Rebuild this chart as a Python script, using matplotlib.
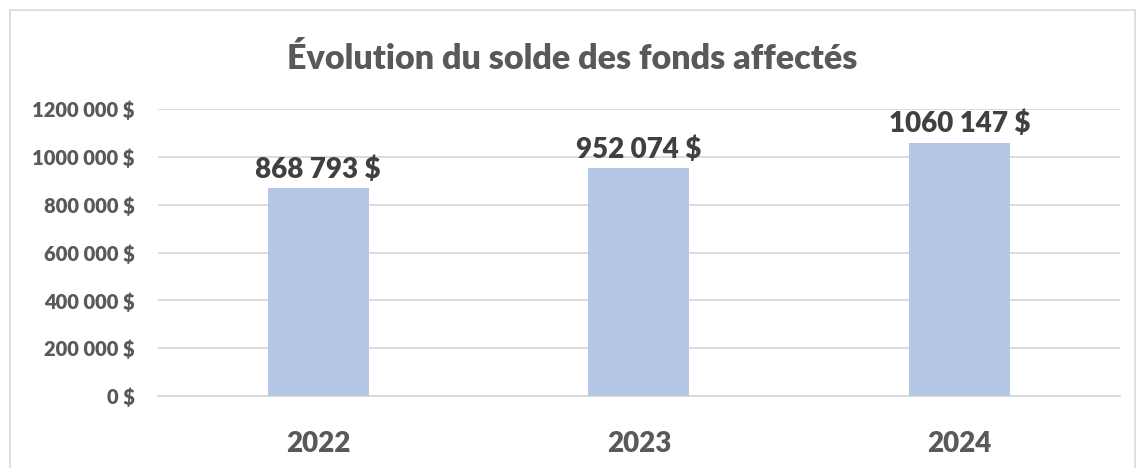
import matplotlib.pyplot as plt
from matplotlib.patches import Rectangle
from matplotlib.ticker import FuncFormatter

# data
years = ['2022', '2023', '2024']
soldes = [868793, 952074, 1060147]
yticks = [0, 200000, 400000, 600000, 800000, 1000000, 1200000]

plt.rcParams['font.family'] = ['Lato', 'DejaVu Sans']


def fmt_dollars(v, pos=None):
    v = int(round(v))
    if v >= 1000:
        return f"{v // 1000} {v % 1000:03d} $"
    return f"{v} $"


fig = plt.figure(figsize=(11.45, 4.68), dpi=100)
ax = fig.add_axes([0.138, 0.1538, 0.84, 0.613])

# chart border
fig.patches.append(Rectangle((10 / 1145, -0.01), 1125 / 1145, 1 - 10 / 468 + 0.01,
                             transform=fig.transFigure, fill=False,
                             edgecolor='#d9d9d9', linewidth=1.2))

x = range(len(years))
ax.bar(x, soldes, width=0.315, color='#b4c7e7', zorder=3)

for i, v in zip(x, soldes):
    ax.text(i, v + 22000, fmt_dollars(v), ha='center', va='bottom',
            fontsize=20, fontweight='heavy', color='#404040')

ax.set_xlim(-0.5, 2.5)
ax.set_ylim(0, 1200000)
ax.set_yticks(yticks)
ax.yaxis.set_major_formatter(FuncFormatter(fmt_dollars))
ax.set_xticks(list(x))
ax.set_xticklabels(years)

ax.grid(axis='y', color='#d9d9d9', linewidth=1.3, zorder=0)
for s in ['top', 'right', 'left']:
    ax.spines[s].set_visible(False)
ax.spines['bottom'].set_color('#d9d9d9')
ax.spines['bottom'].set_linewidth(1.3)
ax.tick_params(axis='both', length=0)
ax.tick_params(axis='y', pad=17, labelsize=14.5, labelcolor='#595959')
ax.tick_params(axis='x', pad=25, labelsize=20, labelcolor='#595959')
for lab in ax.get_yticklabels() + ax.get_xticklabels():
    lab.set_fontweight('heavy')

fig.text(0.5, 0.873, 'Évolution du solde des fonds affectés', ha='center',
         va='center', fontsize=24.5, fontweight='heavy', color='#595959')

fig.savefig('out.png', dpi=100)
